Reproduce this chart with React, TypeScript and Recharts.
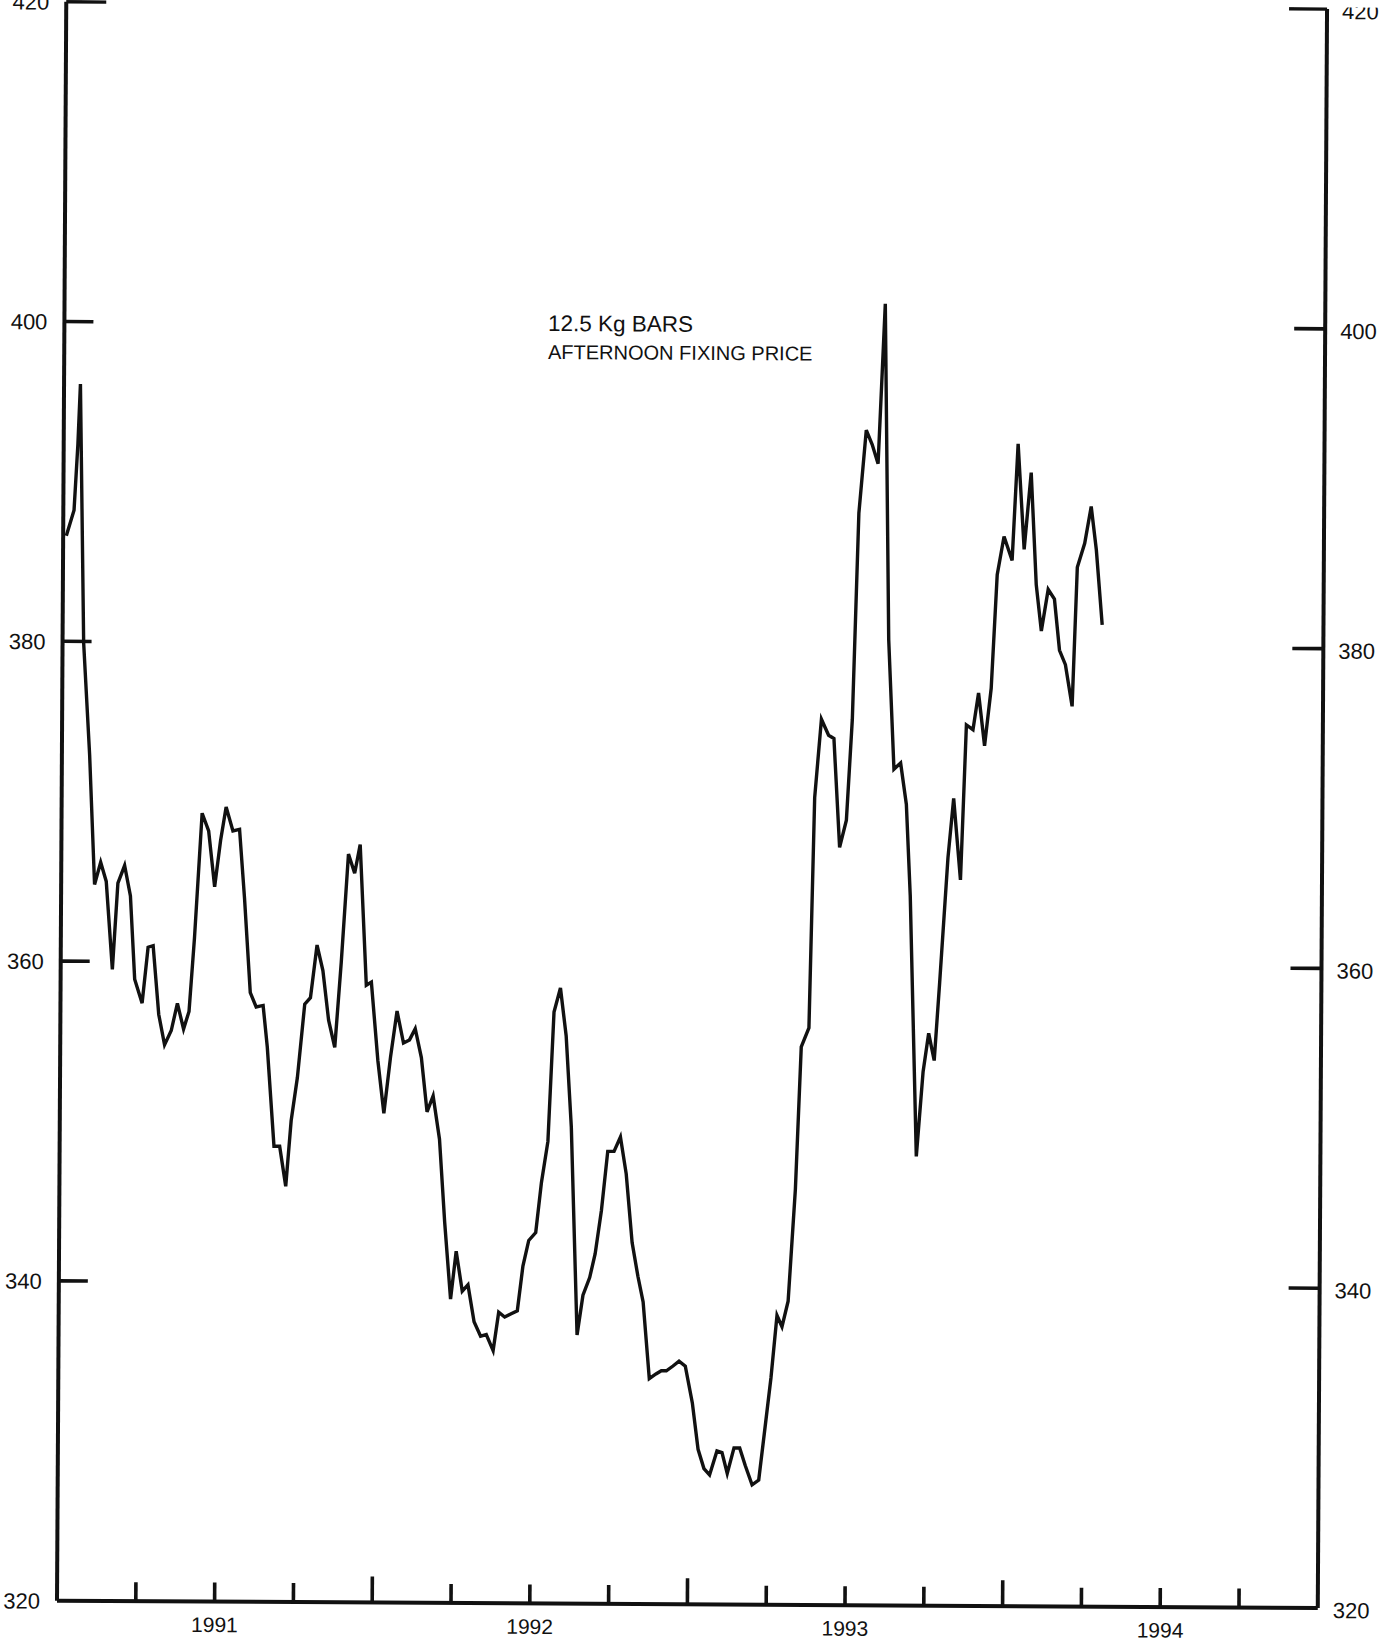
import React from 'react';
import { LineChart, Line, XAxis, YAxis } from 'recharts';

// Dates (decimal years) and afternoon fixing price
const dates = [
  1990.510, 1990.534, 1990.545, 1990.552, 1990.567, 1990.588, 1990.606, 1990.625, 1990.643, 1990.664,
  1990.680, 1990.701, 1990.720, 1990.735, 1990.759, 1990.777, 1990.793, 1990.812, 1990.831, 1990.852,
  1990.871, 1990.891, 1990.908, 1990.924, 1990.946, 1990.967, 1990.987, 1991.005, 1991.022, 1991.044,
  1991.065, 1991.082, 1991.102, 1991.121, 1991.143, 1991.157, 1991.180, 1991.198, 1991.218, 1991.234,
  1991.253, 1991.275, 1991.293, 1991.313, 1991.332, 1991.351, 1991.371, 1991.390, 1991.411, 1991.431,
  1991.448, 1991.470, 1991.486, 1991.508, 1991.528, 1991.548, 1991.568, 1991.589, 1991.608, 1991.626,
  1991.646, 1991.665, 1991.684, 1991.705, 1991.723, 1991.743, 1991.760, 1991.780, 1991.798, 1991.818,
  1991.839, 1991.857, 1991.879, 1991.896, 1991.915, 1991.934, 1991.955, 1991.972, 1991.990, 1992.012,
  1992.029, 1992.049, 1992.066, 1992.086, 1992.105, 1992.123, 1992.145, 1992.163, 1992.184, 1992.201,
  1992.220, 1992.239, 1992.259, 1992.279, 1992.298, 1992.318, 1992.337, 1992.354, 1992.375, 1992.396,
  1992.413, 1992.429, 1992.450, 1992.469, 1992.489, 1992.512, 1992.531, 1992.550, 1992.568, 1992.591,
  1992.607, 1992.624, 1992.645, 1992.663, 1992.681, 1992.703, 1992.724, 1992.742, 1992.761, 1992.779,
  1992.795, 1992.814, 1992.835, 1992.851, 1992.875, 1992.889, 1992.909, 1992.932, 1992.949, 1992.969,
  1992.990, 1993.007, 1993.024, 1993.046, 1993.065, 1993.084, 1993.104, 1993.121, 1993.140, 1993.161,
  1993.180, 1993.194, 1993.218, 1993.238, 1993.255, 1993.273, 1993.289, 1993.313, 1993.330, 1993.353,
  1993.369, 1993.390, 1993.407, 1993.427, 1993.447, 1993.464, 1993.485, 1993.511, 1993.528, 1993.549,
  1993.570, 1993.588, 1993.605, 1993.626, 1993.646, 1993.663, 1993.682, 1993.704, 1993.718, 1993.741,
  1993.761, 1993.778, 1993.798,
];

const prices = [
  386.6, 388.2, 392.3, 396.1, 379.9, 372.9, 364.8, 366.2, 365.0, 359.5,
  364.9, 366.0, 364.1, 358.9, 357.4, 360.9, 361.0, 356.7, 354.8, 355.7,
  357.4, 355.8, 356.9, 361.5, 369.3, 368.2, 364.7, 367.6, 369.7, 368.2,
  368.3, 364.0, 358.1, 357.2, 357.3, 354.7, 348.5, 348.5, 346.0, 350.1,
  352.8, 357.4, 357.8, 361.1, 359.5, 356.4, 354.7, 360.0, 366.8, 365.6,
  367.4, 358.6, 358.8, 353.9, 350.6, 354.1, 357.0, 355.0, 355.2, 355.9,
  354.1, 350.7, 351.7, 349.0, 343.8, 339.0, 342.0, 339.5, 339.9, 337.6,
  336.7, 336.8, 335.8, 338.2, 337.9, 338.1, 338.3, 341.1, 342.7, 343.2,
  346.3, 348.9, 357.0, 358.5, 355.5, 349.8, 336.8, 339.3, 340.4, 341.9,
  344.6, 348.3, 348.3, 349.2, 346.9, 342.6, 340.5, 338.9, 334.1, 334.4,
  334.6, 334.6, 334.9, 335.2, 334.9, 332.6, 329.7, 328.5, 328.1, 329.6,
  329.5, 328.2, 329.8, 329.8, 328.7, 327.5, 327.8, 330.9, 334.2, 338.1,
  337.4, 339.0, 346.0, 354.9, 356.1, 370.5, 375.4, 374.4, 374.2, 367.4,
  369.1, 375.4, 388.3, 393.5, 392.6, 391.4, 401.4, 380.4, 372.3, 372.7,
  370.1, 364.4, 348.1, 353.4, 355.8, 354.1, 359.0, 366.8, 370.5, 365.4,
  375.1, 374.8, 377.1, 373.8, 377.4, 384.5, 386.9, 385.4, 392.7, 386.1,
  390.9, 383.9, 381.0, 383.6, 383.0, 379.8, 378.9, 376.3, 385.0, 386.5,
  388.8, 386.1, 381.4,
];

const quarterTicks = [
  1990.75, 1991, 1991.25, 1991.5, 1991.75, 1992, 1992.25, 1992.5, 1992.75,
  1993, 1993.25, 1993.5, 1993.75, 1994, 1994.25,
];
const yearLabels = [1991, 1992, 1993, 1994];
const priceTicks = [320, 340, 360, 380, 400, 420];
const titleLines = ['12.5 Kg BARS', 'AFTERNOON FIXING PRICE'];

const data = dates.map((t, i) => ({ t, p: prices[i] }));

const W = 1396;
const H = 1644;
const PLOT_LEFT = 57;
const PLOT_TOP = 1.7;
const PLOT_BOTTOM = 1600.7;
const PLOT_RIGHT = 1317.8;
const FONT = "'Liberation Sans', Arial, Helvetica, sans-serif";
const INK = '#111';

const XTick = (props: any) => {
  const { x, payload } = props;
  const v = payload.value as number;
  const frac = v - Math.floor(v);
  const tall = Math.abs(frac - 0.5) < 1e-6;
  const h = tall ? 26 : 19;
  const isYear = yearLabels.indexOf(v) >= 0;
  return (
    <g>
      <line x1={x} x2={x} y1={PLOT_BOTTOM - h} y2={PLOT_BOTTOM} stroke={INK} strokeWidth={3.6} />
      {isYear && (
        <text x={x} y={PLOT_BOTTOM + 30.5} textAnchor="middle" fontSize={21} fontFamily={FONT} fill={INK}>
          {String(v)}
        </text>
      )}
    </g>
  );
};

const LeftTick = (props: any) => {
  const { y, payload } = props;
  const v = payload.value as number;
  const len = v === 420 ? 40 : 29;
  return (
    <g>
      {v !== 320 && (
        <line x1={PLOT_LEFT} x2={PLOT_LEFT + len} y1={y} y2={y} stroke={INK} strokeWidth={3.6} />
      )}
      <text x={40} y={y + 8} textAnchor="end" fontSize={22} fontFamily={FONT} fill={INK}>
        {String(v)}
      </text>
    </g>
  );
};

const RightTick = (props: any) => {
  const { y, payload } = props;
  const v = payload.value as number;
  const len = v === 420 ? 38 : 31;
  return (
    <g>
      {v !== 320 && (
        <line x1={PLOT_RIGHT - len} x2={PLOT_RIGHT} y1={y} y2={y} stroke={INK} strokeWidth={3.6} />
      )}
      <text x={PLOT_RIGHT + 15} y={y + 10} textAnchor="start" fontSize={22} fontFamily={FONT} fill={INK}>
        {String(v)}
      </text>
    </g>
  );
};

export default function App() {
  return (
    <div style={{ position: 'absolute', left: 0, top: 0, width: W, height: H, overflow: 'hidden', background: '#fff' }}>
      <div
        style={{
          position: 'absolute',
          left: 0,
          top: 0,
          width: W,
          height: H,
          transform: 'rotate(0.332deg)',
          transformOrigin: `${PLOT_LEFT}px ${PLOT_BOTTOM}px`,
        }}
      >
        <LineChart
          width={W}
          height={H}
          data={data}
          margin={{ top: PLOT_TOP, right: 0, bottom: 0, left: 0 }}
          style={{ overflow: 'visible' }}
        >
          <XAxis
            dataKey="t"
            type="number"
            domain={[1990.5, 1994.5]}
            ticks={quarterTicks}
            interval={0}
            height={H - PLOT_BOTTOM}
            axisLine={{ stroke: INK, strokeWidth: 4 }}
            tickLine={false}
            tick={XTick}
            allowDataOverflow
          />
          <YAxis
            yAxisId="left"
            orientation="left"
            type="number"
            domain={[320, 420]}
            ticks={priceTicks}
            interval={0}
            width={PLOT_LEFT}
            axisLine={{ stroke: INK, strokeWidth: 4 }}
            tickLine={false}
            tick={LeftTick}
            allowDataOverflow
          />
          <YAxis
            yAxisId="right"
            orientation="right"
            type="number"
            domain={[320, 420]}
            ticks={priceTicks}
            interval={0}
            width={W - PLOT_RIGHT}
            axisLine={{ stroke: INK, strokeWidth: 4 }}
            tickLine={false}
            tick={RightTick}
            allowDataOverflow
          />
          <Line
            yAxisId="left"
            type="linear"
            dataKey="p"
            stroke={INK}
            strokeWidth={3.4}
            strokeLinejoin="miter"
            dot={false}
            activeDot={false}
            isAnimationActive={false}
          />
        </LineChart>
        <svg
          width={W}
          height={H}
          style={{ position: 'absolute', left: 0, top: 0, pointerEvents: 'none' }}
        >
          <text x={540.6} y={328.2} fontSize={22.5} fontFamily={FONT} fill={INK}>
            {titleLines[0]}
          </text>
          <text x={540.8} y={356.2} fontSize={20} fontFamily={FONT} fill={INK}>
            {titleLines[1]}
          </text>
        </svg>
      </div>
    </div>
  );
}
